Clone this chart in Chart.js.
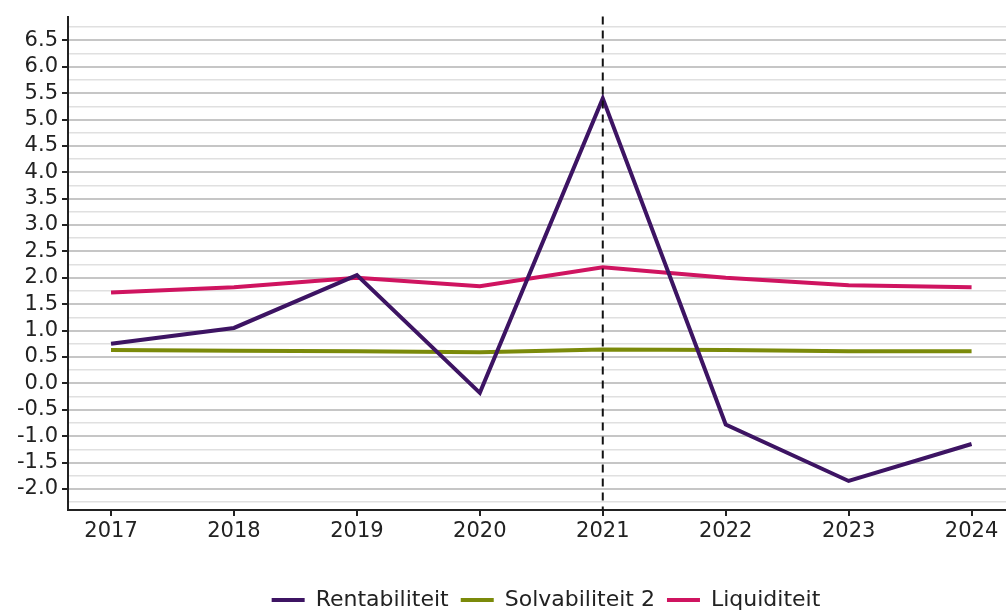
<!DOCTYPE html>
<html>
<head>
<meta charset="utf-8">
<script src="https://cdn.jsdelivr.net/npm/chart.js@4"></script>
<style>
  html, body { margin: 0; padding: 0; background: #fff; overflow: hidden; }
  #wrap { width: 1006px; height: 614px; position: relative; }
</style>
</head>
<body>
<div id="wrap"><canvas id="chart" width="1006" height="614"></canvas></div>
<script>
// jaren op de x-as
const years = [2017, 2018, 2019, 2020, 2021, 2022, 2023, 2024];

// kengetallen per jaar
const rentabiliteit = [0.75, 1.05, 2.05, -0.18, 5.4, -0.78, -1.85, -1.15];
const solvabiliteit2 = [0.63, 0.62, 0.61, 0.59, 0.64, 0.63, 0.61, 0.61];
const liquiditeit = [1.72, 1.82, 2.0, 1.84, 2.2, 2.0, 1.86, 1.82];

// y-as: hoofdlabels om de 0.5, hulplijnen om de 0.25
const yTicks = [];
for (let i = -9; i <= 27; i++) yTicks.push(i * 0.25);

const markerYear = 2021;

const fontFamily = '"DejaVu Sans", Verdana, sans-serif';
const isMajor = v => Math.abs(v * 2 - Math.round(v * 2)) < 1e-6;

// verticale stippellijn bij 2021
const markerLine = {
  id: 'markerLine',
  afterDatasetsDraw(chart) {
    const { ctx, chartArea, scales } = chart;
    const x = scales.x.getPixelForValue(markerYear);
    ctx.save();
    ctx.strokeStyle = '#111';
    ctx.lineWidth = 2;
    ctx.setLineDash([8, 6]);
    ctx.beginPath();
    ctx.moveTo(x, chartArea.top);
    ctx.lineTo(x, chartArea.bottom);
    ctx.stroke();
    ctx.restore();
  }
};

// legenda iets naar rechts en naar beneden schuiven, zoals in het origineel
const legendShift = {
  id: 'legendShift',
  afterLayout(chart) {
    const l = chart.legend;
    if (!l) return;
    const dx = 43;
    const dy = 600 - (l.top + 12 + 11);
    l.left += dx; l.right += dx;
    l.top += dy; l.bottom += dy;
  }
};

const toPoints = arr => arr.map((v, i) => ({ x: years[i], y: v }));

new Chart(document.getElementById('chart'), {
  type: 'line',
  data: {
    datasets: [
      { label: 'Rentabiliteit', data: toPoints(rentabiliteit), borderColor: '#3d1463', backgroundColor: '#3d1463', borderWidth: 4 },
      { label: 'Solvabiliteit 2', data: toPoints(solvabiliteit2), borderColor: '#7b8a0a', backgroundColor: '#7b8a0a', borderWidth: 4 },
      { label: 'Liquiditeit', data: toPoints(liquiditeit), borderColor: '#cf1460', backgroundColor: '#cf1460', borderWidth: 4 }
    ]
  },
  options: {
    responsive: false,
    animation: false,
    layout: { padding: { top: -5, right: 0, bottom: 0, left: 0 } },
    elements: {
      line: { tension: 0, borderCapStyle: 'butt' },
      point: { radius: 0, hoverRadius: 0 }
    },
    scales: {
      x: {
        type: 'linear',
        min: 2016.65,
        max: 2024.28,
        afterBuildTicks: scale => { scale.ticks = years.map(v => ({ value: v })); },
        afterFit: scale => { scale.height = 60; },
        border: { display: true, color: '#222', width: 2 },
        grid: { drawOnChartArea: false, drawTicks: true, tickLength: 6, color: '#222', lineWidth: 2 },
        ticks: {
          color: '#222',
          font: { family: fontFamily, size: 21 },
          padding: 3,
          maxRotation: 0,
          callback: v => String(v)
        }
      },
      y: {
        min: -2.4,
        max: 6.95,
        afterBuildTicks: scale => { scale.ticks = yTicks.map(v => ({ value: v })); },
        afterFit: scale => { scale.width = 68; },
        border: { display: true, color: '#222', width: 2 },
        grid: {
          drawTicks: true,
          tickLength: 6,
          color: c => (c.tick && isMajor(c.tick.value)) ? '#c6c6c6' : '#e0e0e0',
          lineWidth: c => (c.tick && isMajor(c.tick.value)) ? 2 : 1.5,
          tickColor: c => (c.tick && isMajor(c.tick.value)) ? '#222' : 'rgba(0,0,0,0)',
          tickWidth: 2
        },
        ticks: {
          color: '#222',
          font: { family: fontFamily, size: 21 },
          padding: 4,
          autoSkip: false,
          callback: v => isMajor(v) ? v.toFixed(1) : ''
        }
      }
    },
    plugins: {
      tooltip: { enabled: false },
      legend: {
        position: 'bottom',
        labels: {
          usePointStyle: true,
          pointStyle: 'line',
          pointStyleWidth: 33,
          color: '#222',
          font: { family: fontFamily, size: 22 },
          padding: 12
        }
      }
    }
  },
  plugins: [markerLine, legendShift]
});
</script>
</body>
</html>
